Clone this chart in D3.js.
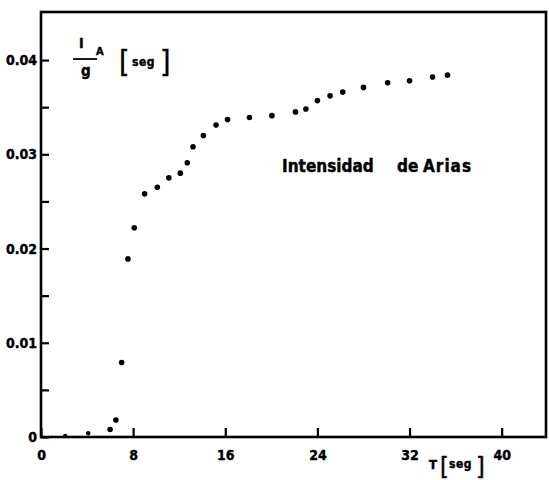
<!DOCTYPE html>
<html lang="es">

<head>
    <meta charset="UTF-8">
    <title>Intensidad de Arias</title>
    <script src="https://cdn.jsdelivr.net/npm/d3@7/dist/d3.min.js"></script>
    <style>
        body { margin: 0; background: #fff; }
        text { font-family: "DejaVu Sans Condensed", "DejaVu Sans", sans-serif; font-weight: bold; fill: #000; }
    </style>
</head>

<body>
    <script>
        // tiempo (seg) e intensidad de Arias I_A/g (seg)
        let tiempo = [2.1, 4.1, 6.0, 6.5, 7.0, 7.55, 8.1, 9.0, 10.1, 11.1, 12.1, 12.7, 13.2, 14.1,
            15.2, 16.2, 18.1, 20.05, 22.1, 23.0, 24.0, 25.1, 26.2, 28.0, 30.1, 32.0, 34.0, 35.3];
        let intensidad = [0.0001, 0.0004, 0.0008, 0.0018, 0.0079, 0.0189, 0.0222, 0.0258, 0.0265, 0.0275,
            0.0280, 0.0291, 0.0308, 0.0320, 0.0331, 0.0337, 0.0339, 0.0341, 0.0345, 0.0348,
            0.0357, 0.0362, 0.0366, 0.0371, 0.0376, 0.0378, 0.0382, 0.0384];
        let xTicks = [0, 8, 16, 24, 32, 40];
        let yTicks = [0, 0.01, 0.02, 0.03, 0.04];
        let yMinor = [0.005, 0.015, 0.025, 0.035];

        let width = 549,
            height = 480,
            padding = {
                top: 12,
                left: 41,
                bottom: 43,
                right: 3
            };
        let svg = d3.select('body').append('svg').attr('width', width).attr('height', height);

        let x = d3.scaleLinear().domain([0, 43.85]).range([padding.left, width - padding.right]);
        let y = d3.scaleLinear().domain([0, 0.0451]).range([height - padding.bottom, padding.top]);

        // marco
        svg.append('rect')
            .attr('x', x(0))
            .attr('y', y(0.0451))
            .attr('width', x(43.85) - x(0))
            .attr('height', y(0) - y(0.0451))
            .attr('fill', 'none')
            .attr('stroke', '#000')
            .attr('stroke-width', 2.6);

        // eje Y, marcas hacia dentro
        svg.append('g')
            .attr('transform', 'translate(' + x(0) + ',0)')
            .call(d3.axisLeft(y).tickValues(yTicks).tickSize(-8).tickPadding(4)
                .tickFormat(d => d === 0 ? '0' : d3.format('.2f')(d)));
        svg.append('g')
            .attr('transform', 'translate(' + x(0) + ',0)')
            .call(d3.axisLeft(y).tickValues(yMinor).tickSize(-8).tickFormat(''));

        // eje X
        svg.append('g')
            .attr('transform', 'translate(0,' + y(0) + ')')
            .call(d3.axisBottom(x).tickValues(xTicks).tickSize(-9).tickPadding(13).tickFormat(d3.format('d')));

        svg.selectAll('.domain').remove();
        svg.selectAll('.tick line').style('stroke', '#000').style('stroke-width', 2.2);
        svg.selectAll('.tick text')
            .style('font-family', '"DejaVu Sans Condensed", "DejaVu Sans", sans-serif')
            .style('font-weight', 'bold')
            .style('stroke', '#000')
            .style('stroke-width', 0.4)
            .attr('font-size', 14)
            .attr('fill', '#000');

        // puntos
        let datos = d3.zip(tiempo, intensidad);
        svg.append('g').selectAll('circle')
            .data(datos)
            .enter()
            .append('circle')
            .attr('cx', d => x(d[0]))
            .attr('cy', d => y(d[1]))
            .attr('r', (d, i) => i < 2 ? 2.2 : 2.8)
            .attr('fill', '#000');

        // rótulo del eje Y:  I_A / g  [seg]
        let rotulo = svg.append('g').style('stroke', '#000').style('stroke-width', 0.4);
        rotulo.append('text').attr('x', 79).attr('y', 48).attr('font-size', 14).text('I');
        rotulo.append('text').attr('x', 96).attr('y', 55).attr('font-size', 11).text('A');
        rotulo.append('line')
            .attr('x1', 73).attr('x2', 97)
            .attr('y1', 59).attr('y2', 59)
            .attr('stroke-width', 1.8);
        rotulo.append('text').attr('x', 81).attr('y', 76).attr('font-size', 15).text('g');
        rotulo.append('text').attr('x', 119).attr('y', 72).attr('font-size', 30).style('font-weight', 'normal').text('[');
        rotulo.append('text').attr('x', 132).attr('y', 66).attr('font-size', 12).attr('letter-spacing', 0.5).text('seg');
        rotulo.append('text').attr('x', 160).attr('y', 72).attr('font-size', 30).style('font-weight', 'normal').text(']');

        // rótulo del eje X:  T [seg]
        rotulo.append('text').attr('x', 429).attr('y', 469).attr('font-size', 13).text('T');
        rotulo.append('text').attr('x', 440).attr('y', 475).attr('font-size', 25).style('font-weight', 'normal').text('[');
        rotulo.append('text').attr('x', 449).attr('y', 468).attr('font-size', 12).attr('letter-spacing', 0.5).text('seg');
        rotulo.append('text').attr('x', 476).attr('y', 475).attr('font-size', 25).style('font-weight', 'normal').text(']');

        // título dentro del gráfico
        rotulo.append('text').attr('x', 282).attr('y', 172).attr('font-size', 17).text('Intensidad');
        rotulo.append('text').attr('x', 397).attr('y', 172).attr('font-size', 17).text('de');
        rotulo.append('text').attr('x', 423).attr('y', 172).attr('font-size', 17).attr('letter-spacing', 1).text('Arias');
    </script>
</body>

</html>
